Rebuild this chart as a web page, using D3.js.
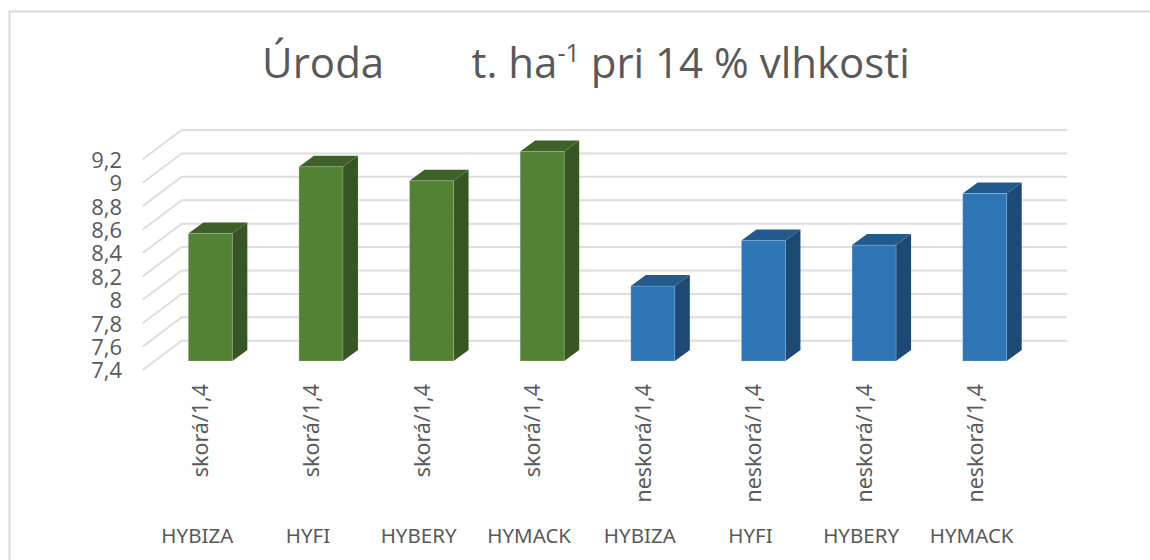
<!DOCTYPE html>
<html lang="sk">
<head>
<meta charset="UTF-8">
<title>Úroda</title>
<style>
  html, body { margin: 0; padding: 0; background: #fff; overflow: hidden; }
  svg { display: block; }
  text { font-family: "Open Sans", sans-serif; fill: #595959; }
  .tick-label { font-size: 22px; }
  .cat-label { font-size: 20.5px; font-family: "Noto Sans", sans-serif; }
  .term-label { font-size: 21.4px; font-family: "Noto Sans", sans-serif; }
</style>
</head>
<body>
<svg id="chart"></svg>
<script src="https://cdn.jsdelivr.net/npm/d3@7"></script>
<script>
  // data
  var hybrids = ["HYBIZA", "HYFI", "HYBERY", "HYMACK", "HYBIZA", "HYFI", "HYBERY", "HYMACK"];
  var terms = ["skorá/1,4", "skorá/1,4", "skorá/1,4", "skorá/1,4", "neskorá/1,4", "neskorá/1,4", "neskorá/1,4", "neskorá/1,4"];
  var yields = [8.49, 9.06, 8.94, 9.19, 8.04, 8.43, 8.39, 8.83];
  var yTicks = [7.4, 7.6, 7.8, 8, 8.2, 8.4, 8.6, 8.8, 9, 9.2];

  var w = 1150, h = 560;
  var svg = d3.select("#chart").attr("width", w).attr("height", h);

  // frame runs off the right and the bottom of the picture
  svg.append("path")
    .attr("d", "M9.5,560V11.5H1150")
    .attr("fill", "none").attr("stroke", "#d9d9d9").attr("stroke-width", 2);

  // title
  var title = svg.append("text")
    .attr("x", 586).attr("y", 78)
    .attr("text-anchor", "middle")
    .style("font-size", "42px")
    .style("white-space", "pre");
  title.append("tspan").text("Úroda        t. ha");
  title.append("tspan").attr("dy", -16).style("font-size", "25px").text("-1");
  title.append("tspan").attr("dy", 16).text(" pri 14 % vlhkosti");

  // y on the front edge of the floor, back wall and bar fronts are shifted from it
  var yScale = d3.scaleLinear().domain([7.4, 9.2]).range([370, 159.3]);
  var wallDx = 39, wallDy = 29.3;
  var barShift = -9; // bar fronts stand this far behind the floor edge
  var depthX = 15, depthY = 11;

  var xScale = d3.scaleBand()
    .domain(d3.range(yields.length))
    .range([155, 1040])
    .paddingInner(0.602)
    .paddingOuter(0.301);

  var wallLeft = 142.7, wallRight = 1067;

  // grid
  var grid = svg.append("g");
  grid.selectAll("path").data(yTicks).enter().append("path")
    .attr("d", function(d) {
      var y = yScale(d);
      return "M" + wallLeft + "," + y + "L" + (wallLeft + wallDx) + "," + (y - wallDy) + "H" + wallRight;
    })
    .attr("fill", "none").attr("stroke", "#dedede").attr("stroke-width", 2);

  // y axis labels
  var yAxis = d3.axisLeft(yScale)
    .tickValues(yTicks)
    .tickSize(0)
    .tickPadding(0)
    .tickFormat(function(d) { return String(d).replace(".", ","); });
  var yG = svg.append("g").attr("transform", "translate(122,0)").call(yAxis);
  yG.select(".domain").remove();
  yG.selectAll("text").attr("class", "tick-label").attr("x", 0).attr("dy", "0.36em");

  // bars
  function barColors(i) {
    return i < 4 ? ["#548235", "#3f6128", "#375623"] : ["#2e75b6", "#225a8b", "#1d4a75"];
  }
  var bars = svg.append("g").selectAll("g").data(yields).enter().append("g");
  var x0 = function(i) { return xScale(i); };
  var x1 = function(i) { return xScale(i) + xScale.bandwidth(); };
  var barBase = yScale(7.4) + barShift;
  var barTop = function(d) { return yScale(d) + barShift; };

  bars.append("polygon") // side
    .attr("points", function(d, i) {
      return [[x1(i), barBase], [x1(i) + depthX, barBase - depthY], [x1(i) + depthX, barTop(d) - depthY], [x1(i), barTop(d)]].join(" ");
    })
    .attr("fill", function(d, i) { return barColors(i)[2]; });
  bars.append("polygon") // top
    .attr("points", function(d, i) {
      return [[x0(i), barTop(d)], [x0(i) + depthX, barTop(d) - depthY], [x1(i) + depthX, barTop(d) - depthY], [x1(i), barTop(d)]].join(" ");
    })
    .attr("fill", function(d, i) { return barColors(i)[1]; });
  bars.append("rect") // front
    .attr("x", function(d, i) { return x0(i); })
    .attr("y", function(d) { return barTop(d); })
    .attr("width", xScale.bandwidth())
    .attr("height", function(d) { return barBase - barTop(d); })
    .attr("fill", function(d, i) { return barColors(i)[0]; })
    .attr("stroke", "rgba(255,255,255,0.2)");

  // two-level category labels
  var catShift = -13;
  svg.append("g").selectAll("text").data(terms).enter().append("text")
    .attr("class", "term-label")
    .attr("text-anchor", "end")
    .attr("transform", function(d, i) {
      return "translate(" + (xScale(i) + xScale.bandwidth() / 2 - 2) + ",384) rotate(-90)";
    })
    .text(function(d) { return d; });
  svg.append("g").selectAll("text").data(hybrids).enter().append("text")
    .attr("class", "cat-label")
    .attr("text-anchor", "middle")
    .attr("x", function(d, i) { return xScale(i) + xScale.bandwidth() / 2 + catShift; })
    .attr("y", 543)
    .text(function(d) { return d; });
</script>
</body>
</html>
